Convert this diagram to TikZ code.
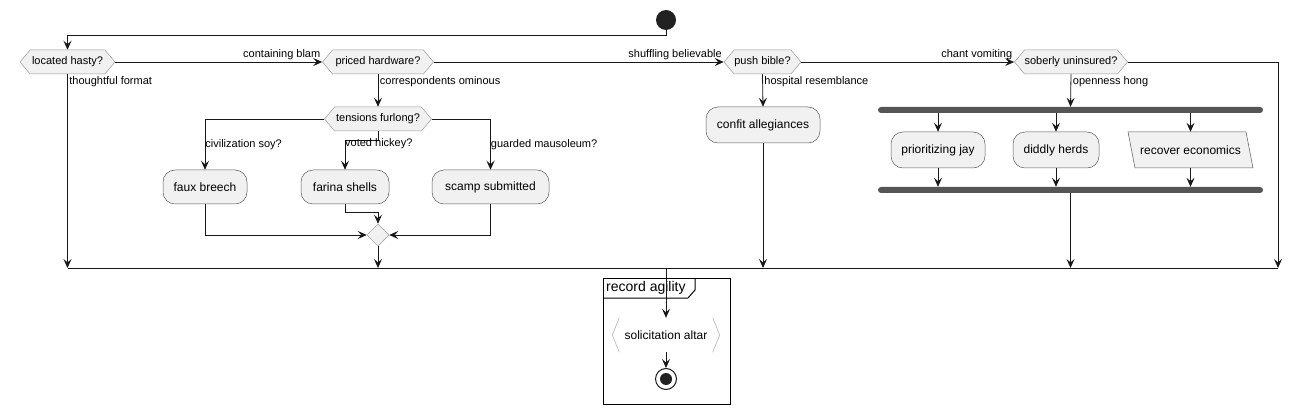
\documentclass[tikz,border=0pt]{standalone}
\usepackage{fontspec}
\setmainfont{Liberation Sans}
\usetikzlibrary{arrows.meta,shapes.symbols,shapes.geometric}
\definecolor{nodefill}{HTML}{F1F1F1}
\definecolor{ln}{HTML}{181818}
\definecolor{bord}{HTML}{5A5A5A}
\definecolor{barc}{HTML}{555555}
\definecolor{dark}{HTML}{222222}
\begin{document}
\begin{tikzpicture}[x=1pt,y=-1pt,
  flow/.style={draw=ln, line width=0.8pt, -{Stealth[length=9pt,width=8pt,inset=3.5pt]}},
  plainline/.style={draw=ln, line width=0.8pt},
  dec/.style={shape=signal, signal to=west and east, signal pointer angle=100,
    draw=gray!80, fill=nodefill, line width=0.5pt, minimum height=24, inner sep=0pt,
    font=\fontsize{11}{13}\selectfont},
  act/.style={rectangle, rounded corners=12pt, draw=bord, fill=nodefill, line width=0.5pt,
    minimum height=36, inner sep=0pt, font=\fontsize{12}{14}\selectfont},
  lbl/.style={inner sep=1.5pt, font=\fontsize{11}{13}\selectfont},
  bar/.style={rectangle, rounded corners=3pt, fill=barc, draw=none, minimum height=6, inner sep=0pt, minimum width=385},
]
\useasboundingbox (0,0) rectangle (1303,414);

% start
\node[circle, fill=dark, minimum size=20, inner sep=0] (start) at (666,20) {};

% decisions
\node[dec, minimum width=95] (d1) at (67.5,62) {located hasty?};
\node[dec, minimum width=111] (d2) at (378,62) {priced hardware?};
\node[dec, minimum width=77] (d3) at (762.5,62) {push bible?};
\node[dec, minimum width=111] (d4) at (1071,62) {soberly uninsured?};
\node[dec, minimum width=107] (d5) at (378,119) {tensions furlong?};

% actions
\node[act, minimum width=84, minimum height=34] (fb) at (205,187) {faux breech};
\node[act, minimum width=88, minimum height=34] (fs) at (345,187) {farina shells};
\node[act, minimum width=117, minimum height=34] (ss) at (490.5,187) {scamp submitted};
\node[diamond, draw=gray!80, fill=nodefill, line width=0.5pt, minimum width=22, minimum height=22, inner sep=0] (mg) at (378,235) {};

\node[act, minimum width=114] (ca) at (763,125) {confit allegiances};

\node[bar] (fork) at (1070.5,110) {};
\node[bar] (join) at (1070.5,190) {};
\node[act, minimum width=94] (pj) at (938,150) {prioritizing jay};
\node[act, minimum width=86] (dh) at (1056,150) {diddly herds};
\filldraw[draw=bord, fill=nodefill, line width=0.5pt] (1128,132) -- (1246,132) -- (1253,168) -- (1135,168) -- cycle;
\node[rectangle, minimum width=118, minimum height=36, inner sep=0pt,
  font=\fontsize{12}{14}\selectfont] (re) at (1190.5,150) {recover economics};

% merge line coordinates
\coordinate (c1) at (67.5,268);
\coordinate (c6) at (1278,268);
\coordinate (cm) at (666,268);

% group
\node[draw=black, line width=1pt, minimum width=127, minimum height=126, inner sep=0, anchor=north west] (grp) at (603,278) {};
\node[anchor=north west, inner sep=0pt, font=\fontsize{14}{16}\selectfont] (gl) at (606,281) {record agility};
\coordinate (t1) at (603,298);
\coordinate (t2) at (688,298);
\coordinate (t3) at (695,290);
\coordinate (t4) at (695,278);
\draw[black, line width=1pt] (t1) -- (t2) -- (t3) -- (t4);

\node[minimum width=107, minimum height=34, inner sep=0, font=\fontsize{12}{14}\selectfont] (sol) at (666,335) {solicitation altar};
\draw[gray!60, line width=0.6pt] ([xshift=7pt]sol.north west) -- (sol.west) -- ([xshift=7pt]sol.south west);
\draw[gray!60, line width=0.6pt] ([xshift=-7pt]sol.north east) -- (sol.east) -- ([xshift=-7pt]sol.south east);

\node[circle, draw=ln, line width=1pt, fill=white, minimum size=21, inner sep=0] (end) at (666,379) {};
\node[circle, fill=dark, minimum size=12, inner sep=0] (endin) at (end.center) {};

% connectors
\draw[flow] (start.south) -- ++(0,5) -| (d1.north);
\draw[flow] (d1.east) -- node[pos=1, anchor=south east, lbl] {containing blam} (d2.west);
\draw[flow] (d2.east) -- node[pos=1, anchor=south east, lbl] {shuffling believable} (d3.west);
\draw[flow] (d3.east) -- node[pos=1, anchor=south east, lbl] {chant vomiting} (d4.west);
\draw[flow] (d1.south) -- node[pos=0, anchor=north west, lbl] {thoughtful format} (c1);
\draw[flow] (d2.south) -- node[pos=0, anchor=north west, lbl] {correspondents ominous} (d5.north);
\draw[flow] (d3.south) -- node[pos=0, anchor=north west, lbl] {hospital resemblance} (ca.north);
\draw[flow] (d4.south) -- node[pos=0, anchor=north west, lbl] {openness hong} (fork.north);
\draw[flow] (d4.east) -| (c6);

\draw[flow] (d5.west) -| node[pos=0.75, anchor=west, lbl, inner sep=0pt] {civilization soy?} (fb.north);
\draw[flow] (d5.south) -- ++(0,9) -| (fs.north);
\node[lbl, anchor=west, inner sep=0pt] (l8) at (345,144) {voted hickey?};
\draw[flow] (d5.east) -| node[pos=0.75, anchor=west, lbl, inner sep=0pt] {guarded mausoleum?} (ss.north);

\draw[flow] (fb.south) |- (mg.west);
\draw[flow] (fs.south) -- ++(0,8) -| (mg.north);
\draw[flow] (ss.south) |- (mg.east);
\draw[flow] (mg.south) -- (mg.south |- c1);

\draw[flow] (ca.south) -- (ca.south |- c1);

\draw[flow] (fork.south -| pj.north) -- (pj.north);
\draw[flow] (fork.south -| dh.north) -- (dh.north);
\draw[flow] (fork.south -| re.north) -- (re.north);
\draw[flow] (pj.south) -- (pj.south |- join.north);
\draw[flow] (dh.south) -- (dh.south |- join.north);
\draw[flow] (re.south) -- (re.south |- join.north);
\draw[flow] (join.south) -- (join.south |- c1);

\draw[plainline] (c1) -- (c6);
\draw[flow] (cm) -- (sol.north);
\draw[flow] (sol.south) -- (end.north);
\end{tikzpicture}
\end{document}
